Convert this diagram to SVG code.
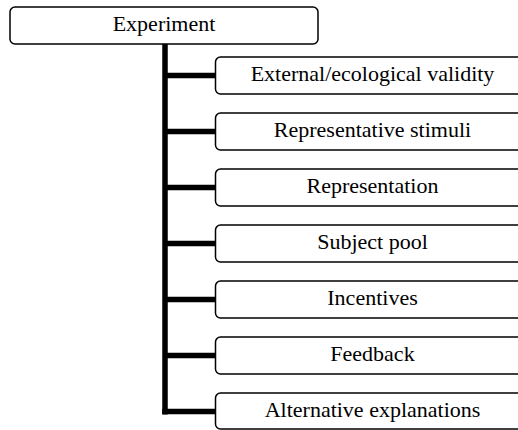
<svg xmlns="http://www.w3.org/2000/svg" width="518" height="430" viewBox="0 0 518 430">
<style>
.box{fill:#fff;stroke:#000;stroke-width:1.5}
.lbl{font-family:"Liberation Serif","Times New Roman",serif;font-size:22px;fill:#000;text-anchor:middle}
.conn{stroke:#000;stroke-width:5.5;fill:none}
</style>
<rect width="518" height="430" fill="#fff"/>
<g id="connectors">
<line class="conn" x1="165" y1="44" x2="165" y2="414.5"/>
<line class="conn" x1="165" y1="75.5" x2="216" y2="75.5"/>
<line class="conn" x1="165" y1="131.5" x2="216" y2="131.5"/>
<line class="conn" x1="165" y1="187.5" x2="216" y2="187.5"/>
<line class="conn" x1="165" y1="243.5" x2="216" y2="243.5"/>
<line class="conn" x1="165" y1="299.5" x2="216" y2="299.5"/>
<line class="conn" x1="165" y1="355.5" x2="216" y2="355.5"/>
<line class="conn" x1="162.25" y1="411.5" x2="216" y2="411.5"/>
</g>
<g id="experiment"><rect class="box" x="10" y="7" width="308" height="37" rx="5"/><text class="lbl" x="164" y="31">Experiment</text></g>
<g id="external"><rect class="box" x="215.5" y="57" width="320" height="37" rx="5"/><text class="lbl" x="372.5" y="81">External/ecological validity</text></g>
<g id="stimuli"><rect class="box" x="215.5" y="113" width="320" height="37" rx="5"/><text class="lbl" x="372.5" y="137">Representative stimuli</text></g>
<g id="representation"><rect class="box" x="215.5" y="169" width="320" height="37" rx="5"/><text class="lbl" x="372.5" y="193">Representation</text></g>
<g id="subjectpool"><rect class="box" x="215.5" y="225" width="320" height="37" rx="5"/><text class="lbl" x="372.5" y="249">Subject pool</text></g>
<g id="incentives"><rect class="box" x="215.5" y="281" width="320" height="37" rx="5"/><text class="lbl" x="372.5" y="305">Incentives</text></g>
<g id="feedback"><rect class="box" x="215.5" y="337" width="320" height="37" rx="5"/><text class="lbl" x="372.5" y="361">Feedback</text></g>
<g id="alternative"><rect class="box" x="215.5" y="393" width="320" height="36" rx="5"/><text class="lbl" x="372.5" y="417">Alternative explanations</text></g>
</svg>
